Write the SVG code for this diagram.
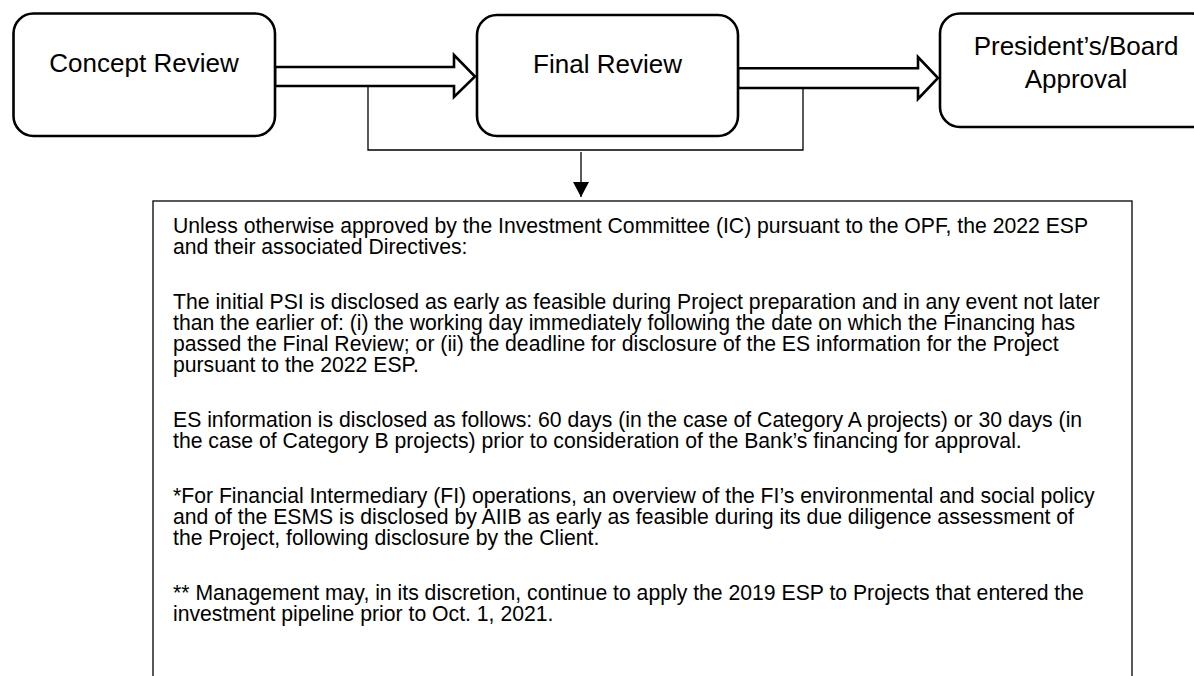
<svg xmlns="http://www.w3.org/2000/svg" width="1194" height="676" viewBox="0 0 1194 676">
<style>
.node{fill:#fff;stroke:#000;stroke-width:2.6}
.lbl{font-family:"Liberation Sans",Arial,sans-serif;font-size:26px;fill:#000;text-anchor:middle}
.body{font-family:"Liberation Sans",Arial,sans-serif;font-size:21.2px;fill:#000}
.blk{fill:#fff;stroke:#000;stroke-width:2.6;stroke-linejoin:miter}
.thin{fill:none;stroke:#000;stroke-width:1.3}
</style>
<defs>
<marker id="ah" viewBox="0 0 15 16" refX="15" refY="8" markerWidth="15" markerHeight="16" markerUnits="userSpaceOnUse" orient="auto">
<path d="M0,0 L15,8 L0,16 Z" fill="#000"/>
</marker>
</defs>
<rect width="1194" height="676" fill="#fff"/>
<g id="connectors">
<path class="thin" d="M368,86 V150 H803 V88"/>
<line class="thin" x1="581" y1="152" x2="581" y2="197" marker-end="url(#ah)"/>
<path class="blk" d="M275,67 H454 V55 L475,76.5 L454,97 V86 H275 Z"/>
<path class="blk" d="M738,68.3 H918 V57 L938,78 L918,99 V88 H738 Z"/>
</g>
<g id="concept-review">
<rect class="node" x="13.5" y="13.5" width="261.5" height="122.5" rx="20"/>
<text class="lbl" x="144" y="72">Concept Review</text>
</g>
<g id="final-review">
<rect class="node" x="477" y="15" width="261" height="121" rx="20"/>
<text class="lbl" x="607.5" y="73">Final Review</text>
</g>
<g id="approval">
<rect class="node" x="940" y="13.5" width="272" height="113.5" rx="20"/>
<text class="lbl" x="1076" y="55">President’s/Board</text>
<text class="lbl" x="1076" y="88">Approval</text>
</g>
<g id="disclosure-note">
<rect fill="#fff" stroke="#000" stroke-width="1.3" x="153" y="201" width="979" height="520"/>
<text class="body" x="173" y="233">Unless otherwise approved by the Investment Committee (IC) pursuant to the OPF, the 2022 ESP</text>
<text class="body" x="173" y="254">and their associated Directives:</text>
<text class="body" x="173" y="309">The initial PSI is disclosed as early as feasible during Project preparation and in any event not later</text>
<text class="body" x="173" y="330">than the earlier of: (i) the working day immediately following the date on which the Financing has</text>
<text class="body" x="173" y="351">passed the Final Review; or (ii) the deadline for disclosure of the ES information for the Project</text>
<text class="body" x="173" y="372">pursuant to the 2022 ESP.</text>
<text class="body" x="173" y="427">ES information is disclosed as follows: 60 days (in the case of Category A projects) or 30 days (in</text>
<text class="body" x="173" y="448">the case of Category B projects) prior to consideration of the Bank’s financing for approval.</text>
<text class="body" x="173" y="503">*For Financial Intermediary (FI) operations, an overview of the FI’s environmental and social policy</text>
<text class="body" x="173" y="524">and of the ESMS is disclosed by AIIB as early as feasible during its due diligence assessment of</text>
<text class="body" x="173" y="545">the Project, following disclosure by the Client.</text>
<text class="body" x="173" y="600">** Management may, in its discretion, continue to apply the 2019 ESP to Projects that entered the</text>
<text class="body" x="173" y="621">investment pipeline prior to Oct. 1, 2021.</text>
</g>
</svg>
